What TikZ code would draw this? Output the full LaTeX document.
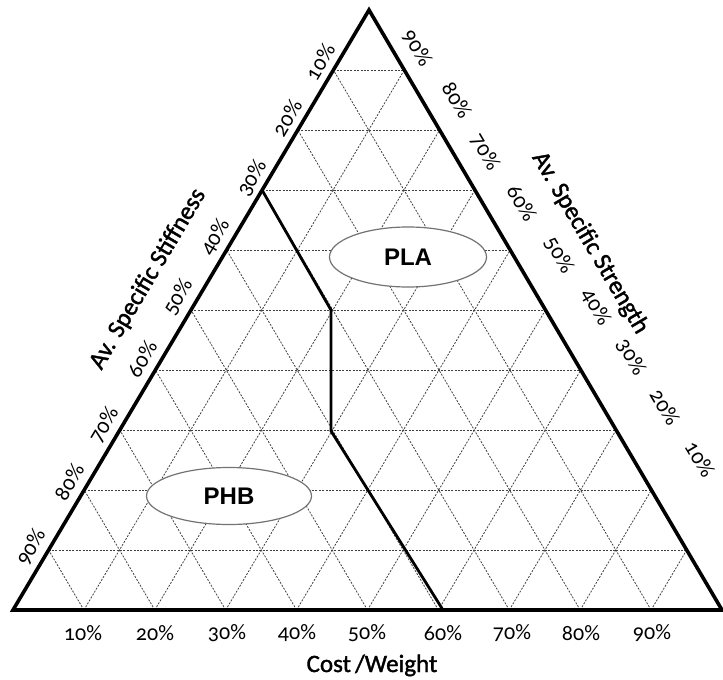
\documentclass[tikz,border=0pt]{standalone}
\usepackage{fontspec}
\newfontfamily\arialfont{Liberation Sans}
\newcommand\mylblfont{\fontspec{Carlito}[RawFeature=+onum]}
\newcommand\myaxisfont{\fontspec{Carlito}[RawFeature={embolden=1.5}]}
\usetikzlibrary{calc,shapes.geometric}
\begin{document}
\begin{tikzpicture}[x=1pt,y=-1pt,
  grid/.style={black!75, line width=0.8pt, dash pattern=on 2pt off 1.4pt},
  frame/.style={line width=3.6pt, line join=miter},
  bound/.style={line width=2.8pt, line join=miter},
  region/.style={ellipse, draw=black!55, line width=1.2pt, fill=white, inner sep=0pt,
    font=\arialfont\bfseries\fontsize{24}{24}\selectfont},
  lbl/.style={font=\fontsize{22}{22}\selectfont\mylblfont, inner sep=0pt},
  ltick/.style={lbl, rotate=59.4},
  rtick/.style={lbl, rotate=-59.4},
  axis/.style={font=\fontsize{25}{25}\selectfont\myaxisfont, inner sep=0pt}]
\useasboundingbox (0,0) rectangle (723,680);
\coordinate (A) at (13,610);
\coordinate (B) at (722,610);
\coordinate (C) at (369,10);
% grid
\foreach \k in {1,...,9} {
  \draw[grid] ($(A)!\k/10!(C)$) -- ($(B)!\k/10!(C)$);
  \draw[grid] ($(A)!\k/10!(B)$) -- ($(C)!\k/10!(B)$);
  \draw[grid] ($(A)!\k/10!(B)$) -- ($(A)!\k/10!(C)$);
}
% frame
\draw[frame] (A) -- (B) -- (C) -- cycle;
% boundary
\coordinate (p1) at (262,190);
\coordinate (p2) at (331,310);
\coordinate (p3) at (331,431);
\coordinate (p4) at (443,610);
\draw[bound] (p1) -- (p2) -- (p3) -- (p4);
% regions
\node[region, minimum width=157pt, minimum height=60pt] (pla) at (408,257) {PLA};
\node[region, minimum width=165pt, minimum height=57pt] (phb) at (229,496) {PHB};
% left labels
\foreach \t/\x/\y in {10/320/62, 20/287/118, 30/252/178, 40/215/237, 50/178/297,
  60/142/359, 70/104/425, 80/69/482, 90/31/547}
  \node[ltick] (l\t) at (\x,\y) {\t\%};
% right labels
\foreach \t/\x/\y in {90/417/48, 80/457/100, 70/485/152, 60/522/203, 50/559/255,
  40/596/307, 30/631/357, 20/665/407, 10/700/459}
  \node[rtick] (r\t) at (\x,\y) {\t\%};
% bottom labels
\foreach \t/\x in {10/83, 20/155, 30/227, 40/297, 50/367, 60/443, 70/512, 80/581, 90/652}
  \node[lbl] (b\t) at (\x,633) {\t\%};
% axis titles
\node[axis, rotate=59.4] (stiff) at (148,279) {Av. Specific Stiffness};
\node[axis, rotate=-59.4] (strength) at (590,243) {Av. Specific Strength};
\node[axis, anchor=base] (cost) at (372,672) {Cost\,/Weight};
\end{tikzpicture}
\end{document}
